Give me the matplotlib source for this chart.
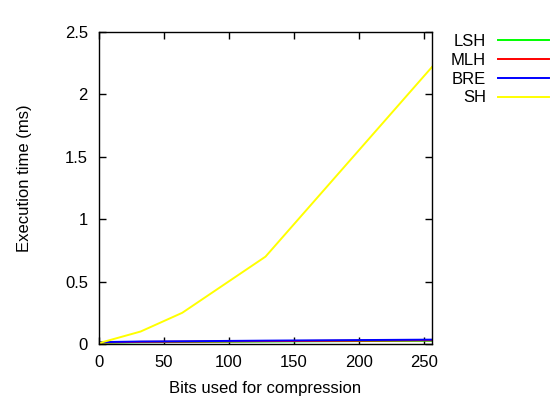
import matplotlib
matplotlib.use('Agg')
import matplotlib.pyplot as plt

# ── Data ──
bits = [1, 32, 64, 128, 192, 256]
sh = [0.01, 0.10, 0.25, 0.70, 1.46, 2.22]
bre = [0.015, 0.02, 0.022, 0.027, 0.031, 0.035]
mlh = [0.012, 0.017, 0.019, 0.023, 0.026, 0.03]
lsh = [0.010, 0.014, 0.016, 0.020, 0.023, 0.026]

xticks = [0, 50, 100, 150, 200, 250]
yticks = [0, 0.5, 1, 1.5, 2, 2.5]
ytick_labels = ['0', '0.5', '1', '1.5', '2', '2.5']

plt.rcParams['font.family'] = ['Liberation Sans', 'DejaVu Sans']
plt.rcParams['font.size'] = 12

fig = plt.figure(figsize=(5.54, 4.0), dpi=100)
ax = fig.add_axes([0.1787, 0.14, 0.6011, 0.78])

ax.plot(bits, lsh, color='#00ff00', linewidth=1.4, label='LSH')
ax.plot(bits, mlh, color='#ff0000', linewidth=1.4, label='MLH')
ax.plot(bits, bre, color='#0000ff', linewidth=1.4, label='BRE')
ax.plot(bits, sh, color='#ffff00', linewidth=1.4, label='SH')

ax.set_xlim(0, 256)
ax.set_ylim(0, 2.5)
ax.set_xticks(xticks)
ax.set_yticks(yticks)
ax.set_yticklabels(ytick_labels)
ax.tick_params(direction='in', top=True, right=True, length=5, width=1,
               labelsize=12, pad=8)
for s in ax.spines.values():
    s.set_linewidth(1)

ax.set_xlabel('Bits used for compression', fontsize=12, labelpad=8)
ax.set_ylabel('Execution time (ms)', fontsize=12)
ax.yaxis.set_label_coords(-0.2, 0.53)

ax.legend(loc='upper right', bbox_to_anchor=(1.351, 0.994), frameon=False,
          markerfirst=False, handlelength=3.05, handletextpad=0.72,
          labelspacing=0.23, borderaxespad=0, borderpad=0, fontsize=12)

fig.savefig('out.png', dpi=100)
